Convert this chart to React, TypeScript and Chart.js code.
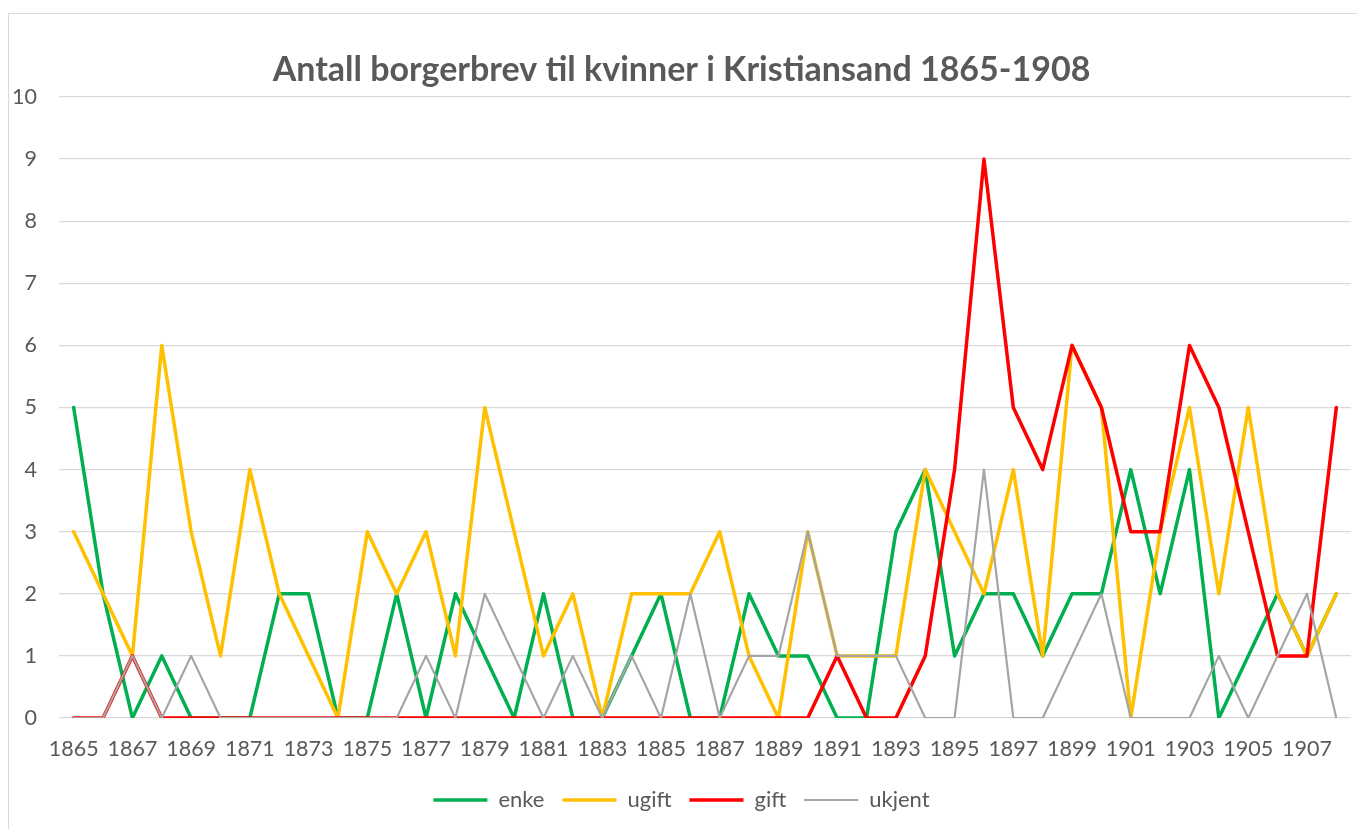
import React, { useEffect, useRef } from "react";
import { Chart, registerables } from "chart.js";

Chart.register(...registerables);

const years = [
  "1865", "1866", "1867", "1868", "1869", "1870", "1871", "1872", "1873", "1874",
  "1875", "1876", "1877", "1878", "1879", "1880", "1881", "1882", "1883", "1884",
  "1885", "1886", "1887", "1888", "1889", "1890", "1891", "1892", "1893", "1894",
  "1895", "1896", "1897", "1898", "1899", "1900", "1901", "1902", "1903", "1904",
  "1905", "1906", "1907", "1908",
];

const enke = [
  5, 2, 0, 1, 0, 0, 0, 2, 2, 0,
  0, 2, 0, 2, 1, 0, 2, 0, 0, 1,
  2, 0, 0, 2, 1, 1, 0, 0, 3, 4,
  1, 2, 2, 1, 2, 2, 4, 2, 4, 0,
  1, 2, 1, 2,
];

const ugift = [
  3, 2, 1, 6, 3, 1, 4, 2, 1, 0,
  3, 2, 3, 1, 5, 3, 1, 2, 0, 2,
  2, 2, 3, 1, 0, 3, 1, 1, 1, 4,
  3, 2, 4, 1, 6, 5, 0, 3, 5, 2,
  5, 2, 1, 2,
];

const gift = [
  0, 0, 1, 0, 0, 0, 0, 0, 0, 0,
  0, 0, 0, 0, 0, 0, 0, 0, 0, 0,
  0, 0, 0, 0, 0, 0, 1, 0, 0, 1,
  4, 9, 5, 4, 6, 5, 3, 3, 6, 5,
  3, 1, 1, 5,
];

const ukjent = [
  0, 0, 1, 0, 1, 0, 0, 0, 0, 0,
  0, 0, 1, 0, 2, 1, 0, 1, 0, 1,
  0, 2, 0, 1, 1, 3, 1, 1, 1, 0,
  0, 4, 0, 0, 1, 2, 0, 0, 0, 1,
  0, 1, 2, 0,
];

const yTicks = [0, 1, 2, 3, 4, 5, 6, 7, 8, 9, 10];

const TEXT = "#595959";
const FONT = "Lato, 'Open Sans', sans-serif";

export default function App() {
  const ref = useRef<HTMLCanvasElement | null>(null);

  useEffect(() => {
    if (!ref.current) return;
    const mk = (label: string, data: number[], color: string, width: number, order: number) => ({
      label,
      data,
      borderColor: color,
      backgroundColor: color,
      borderWidth: width,
      pointRadius: 0,
      pointHoverRadius: 0,
      tension: 0,
      borderJoinStyle: "round" as const,
      borderCapStyle: "round" as const,
      fill: false,
      order,
    });
    const chart = new Chart(ref.current, {
      type: "line",
      data: {
        labels: years,
        datasets: [
          mk("enke", enke, "#00B050", 3.5, 4),
          mk("ugift", ugift, "#FFC000", 3.5, 3),
          mk("gift", gift, "#FF0000", 3.5, 2),
          mk("ukjent", ukjent, "#A5A5A5", 2.2, 1),
        ],
      },
      options: {
        responsive: false,
        animation: false,
        devicePixelRatio: 1,
        layout: { padding: { left: 12, right: 6, top: 0, bottom: 8 } },
        plugins: {
          title: {
            display: true,
            text: "Antall borgerbrev til kvinner i Kristiansand 1865-1908",
            color: TEXT,
            font: { family: FONT, size: 34, weight: "bold" },
            padding: { top: 49.6, bottom: 6.6 },
          },
          legend: {
            display: true,
            position: "bottom",
            labels: {
              usePointStyle: true,
              pointStyle: "line",
              pointStyleWidth: 54,
              color: TEXT,
              font: { family: FONT, size: 22 },
              padding: 18,
              sort: (a: any, b: any) => a.datasetIndex - b.datasetIndex,
            },
          },
          tooltip: { enabled: false },
        },
        scales: {
          x: {
            offset: true,
            grid: { display: false, drawTicks: false },
            border: { display: false },
            ticks: {
              autoSkip: false,
              maxRotation: 0,
              minRotation: 0,
              padding: 18,
              color: TEXT,
              font: { family: FONT, size: 21.5 },
              callback: (_v: any, i: number) => (i % 2 === 0 ? years[i] : ""),
            },
            afterFit: (s: any) => {
              s.height = 53;
            },
          },
          y: {
            min: 0,
            max: 10,
            afterBuildTicks: (s: any) => {
              s.ticks = yTicks.map((v) => ({ value: v }));
            },
            grid: { color: "#D9D9D9", lineWidth: 1.3, drawTicks: false },
            border: { display: false },
            ticks: {
              padding: 22,
              color: TEXT,
              font: { family: FONT, size: 21.5 },
            },
            afterFit: (s: any) => {
              s.width = 47;
            },
          },
        },
      },
    });
    return () => chart.destroy();
  }, []);

  return (
    <div style={{ position: "fixed", inset: 0, overflow: "hidden", background: "#fff" }}>
      <div
        style={{
          position: "absolute",
          left: 8,
          top: 13,
          width: 1400,
          height: 900,
          border: "1px solid #D9D9D9",
        }}
      />
      <canvas
        ref={ref}
        width={1357}
        height={829}
        style={{ position: "absolute", left: 0, top: 0, width: 1357, height: 829 }}
      />
    </div>
  );
}
